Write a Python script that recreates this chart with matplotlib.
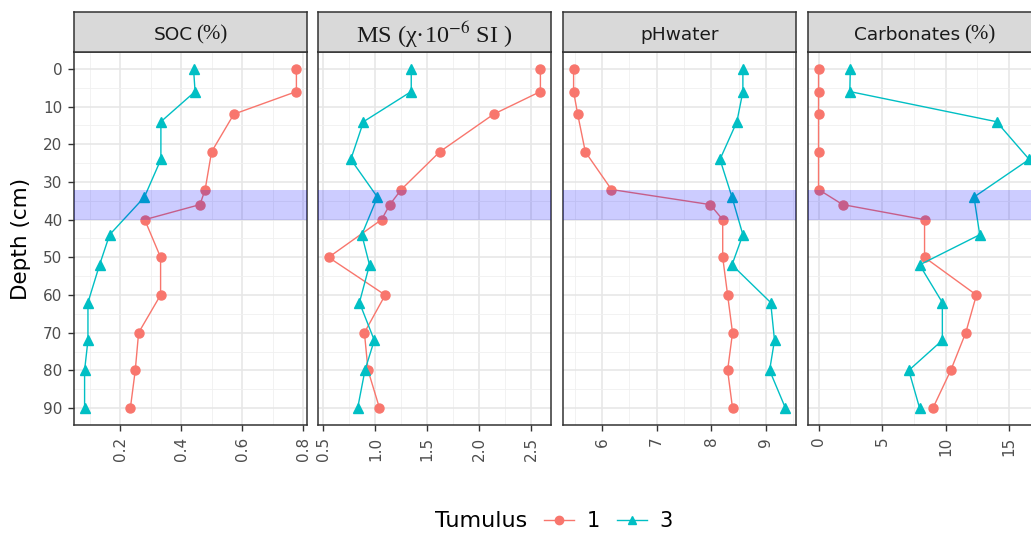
import matplotlib
matplotlib.use("Agg")
import matplotlib.pyplot as plt
from matplotlib.lines import Line2D
from matplotlib.offsetbox import TextArea, HPacker, AnchoredOffsetbox

plt.rcParams['mathtext.fontset'] = 'stix'

# ---------------- data ----------------
depth_t1 = [0, 6, 12, 22, 32, 36, 40, 50, 60, 70, 80, 90]
depth_t3 = [0, 6, 14, 24, 34, 44, 52, 62, 72, 80, 90]

soc_t1 = [0.777, 0.777, 0.572, 0.499, 0.478, 0.461, 0.280, 0.332, 0.332, 0.260, 0.249, 0.233]
soc_t3 = [0.440, 0.445, 0.333, 0.333, 0.279, 0.165, 0.132, 0.094, 0.094, 0.083, 0.083]
ms_t1 = [2.59, 2.59, 2.14, 1.62, 1.25, 1.14, 1.06, 0.55, 1.095, 0.895, 0.93, 1.04]
ms_t3 = [1.346, 1.346, 0.886, 0.764, 1.02, 0.87, 0.944, 0.847, 0.99, 0.90, 0.83]
ph_t1 = [5.475, 5.475, 5.55, 5.69, 6.17, 7.98, 8.21, 8.21, 8.30, 8.39, 8.30, 8.39]
ph_t3 = [8.58, 8.58, 8.47, 8.16, 8.38, 8.58, 8.38, 9.09, 9.16, 9.07, 9.36]
carb_t1 = [0, 0, 0, 0, 0, 1.9, 8.34, 8.34, 12.42, 11.58, 10.4, 9.0]
carb_t3 = [2.5, 2.46, 14.0, 16.57, 12.23, 12.68, 7.95, 9.74, 9.74, 7.1, 7.95]

# strip titles: (sans part, serif part)
panel_titles = [("SOC", "(%)"), (None, "MS (χ·10$^{-6}$ SI )"), ("pHwater", None), ("Carbonates", "(%)")]
panel_t1 = [soc_t1, ms_t1, ph_t1, carb_t1]
panel_t3 = [soc_t3, ms_t3, ph_t3, carb_t3]
major_ticks = [[0.2, 0.4, 0.6, 0.8], [0.5, 1.0, 1.5, 2.0, 2.5], [6, 7, 8, 9], [0, 5, 10, 15]]
minor_ticks = [[0.1, 0.3, 0.5, 0.7], [0.75, 1.25, 1.75, 2.25], [5.5, 6.5, 7.5, 8.5, 9.5], [2.5, 7.5, 12.5, 17.5]]
tick_labels = [["0.2", "0.4", "0.6", "0.8"], ["0.5", "1.0", "1.5", "2.0", "2.5"],
               ["6", "7", "8", "9"], ["0", "5", "10", "15"]]
y_major = [0, 10, 20, 30, 40, 50, 60, 70, 80, 90]
y_minor = [5, 15, 25, 35, 45, 55, 65, 75, 85]
band = (32, 40)
legend_title = "Tumulus"
series_labels = ["1", "3"]

c1 = "#F8766D"
c3 = "#00BFC4"
SERIF = ["Liberation Serif", "DejaVu Serif"]

W, H = 1031, 533
fig = plt.figure(figsize=(W / 100, H / 100), dpi=100)

lefts = [74, 318, 563, 808]
pw = 233
top_plot, bot_plot = 52, 425
strip_top = 12

for i in range(4):
    l = lefts[i]
    ax = fig.add_axes([l / W, 1 - bot_plot / H, pw / W, (bot_plot - top_plot) / H])
    sax = fig.add_axes([l / W, 1 - top_plot / H, pw / W, (top_plot - strip_top) / H])
    # strip
    sax.set_facecolor("#d9d9d9")
    sax.set_xticks([]); sax.set_yticks([])
    for s in sax.spines.values():
        s.set_color("#333333"); s.set_linewidth(1.1)
    sans_part, serif_part = panel_titles[i]
    children = []
    if sans_part:
        children.append(TextArea(sans_part, textprops=dict(fontsize=13.3, color="#1a1a1a")))
    if serif_part:
        fs = 17.5 if sans_part is None else 15
        children.append(TextArea(serif_part, textprops=dict(fontsize=fs, color="#1a1a1a", family=SERIF)))
    sep = 3 if i == 3 else 2
    pack = HPacker(children=children, align="baseline", pad=0, sep=sep)
    ab = AnchoredOffsetbox(loc="center", child=pack, pad=0, borderpad=0, frameon=False,
                           bbox_to_anchor=(0.5, 0.42), bbox_transform=sax.transAxes)
    sax.add_artist(ab)

    # data
    x1, x3 = panel_t1[i], panel_t3[i]
    ax.plot(x1, depth_t1, color=c1, lw=1.0, marker="o", ms=6.5, zorder=3)
    ax.plot(x3, depth_t3, color=c3, lw=1.0, marker="^", ms=6.5, zorder=3)
    ax.axhspan(band[0], band[1], color=(0, 0, 1), alpha=0.2, lw=0, zorder=5)

    lo = min(min(x1), min(x3)); hi = max(max(x1), max(x3))
    r = hi - lo
    ax.set_xlim(lo - 0.05 * r, hi + 0.05 * r)
    ax.set_ylim(94.5, -4.5)

    ax.set_xticks(major_ticks[i])
    ax.set_xticklabels(tick_labels[i], rotation=90)
    ax.set_xticks(minor_ticks[i], minor=True)
    ax.set_yticks(y_major)
    ax.set_yticks(y_minor, minor=True)
    if i == 0:
        ax.set_yticklabels([str(v) for v in y_major])
        ax.set_ylabel("Depth (cm)", fontsize=15.5, color="black")
        ax.yaxis.set_label_coords(-(74 - 31) / pw, 0.5)
    else:
        ax.tick_params(axis="y", which="both", left=False, labelleft=False)

    ax.grid(which="major", color="#e6e6e6", lw=1.1, zorder=0)
    ax.grid(which="minor", color="#f0f0f0", lw=0.6, zorder=0)
    ax.set_axisbelow(True)
    ax.tick_params(axis="both", which="major", length=4.5, width=1, color="#333333",
                   labelsize=11, labelcolor="#4d4d4d", pad=4)
    ax.tick_params(axis="both", which="minor", length=0)
    for s in ax.spines.values():
        s.set_color("#333333"); s.set_linewidth(1.1)

# legend
fig.text(435 / W, 1 - 521 / H, legend_title, fontsize=16, ha="left", va="center", color="black")
handles = [Line2D([], [], color=c1, marker="o", lw=1.0, ms=6),
           Line2D([], [], color=c3, marker="^", lw=1.0, ms=6)]
fig.legend(handles, series_labels, ncol=2, frameon=False, loc="center left",
           bbox_to_anchor=(544 / W, 1 - 521 / H), fontsize=15, handlelength=1.45,
           handletextpad=0.6, columnspacing=0.8, borderpad=0, borderaxespad=0)

fig.savefig("out.png", dpi=100)
